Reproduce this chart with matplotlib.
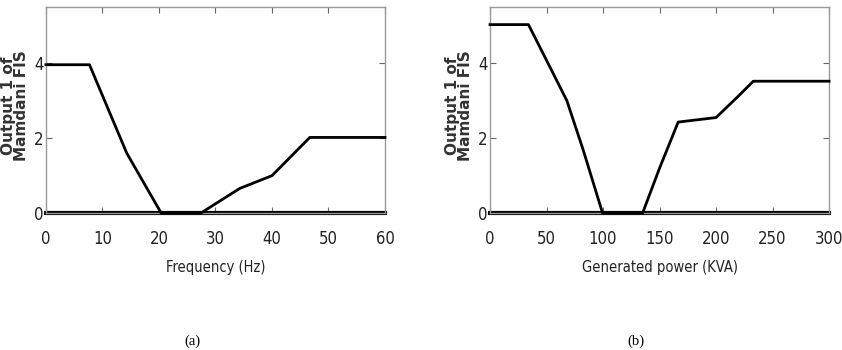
import matplotlib
matplotlib.use("Agg")
import matplotlib.pyplot as plt

# (a) output vs frequency
freq = [0, 7.7, 14.3, 20.4, 27.4, 30, 34.3, 40, 46.7, 60]
out_a = [3.96, 3.96, 1.6, 0, 0, 0.25, 0.66, 1.0, 2.02, 2.02]

# (b) output vs generated power
power = [0, 34, 57.5, 68, 82.5, 99.6, 135, 150, 166.5, 200, 219, 233, 300]
out_b = [5.03, 5.03, 3.63, 3.0, 1.68, 0, 0, 1.2, 2.43, 2.55, 3.1, 3.52, 3.52]

fig = plt.figure(figsize=(8.42, 3.5), dpi=100)
ax1 = fig.add_axes([0.0546, 0.391, 0.4026, 0.589])
ax2 = fig.add_axes([0.582, 0.391, 0.4026, 0.589])

panels = [
    (ax1, freq, out_a, [0, 60], range(0, 61, 10), "Frequency (Hz)", "(a)", 192, 15),
    (ax2, power, out_b, [0, 300], range(0, 301, 50), "Generated power (KVA)", "(b)", 636, 459),
]

for ax, x, y, xl, xt, xlab, cap, capx, ylx in panels:
    ax.plot(x, y, color="black", lw=2, clip_on=False, zorder=3)
    ax.axhline(0, color="black", lw=3, zorder=2, clip_on=False)
    ax.set_xlim(xl)
    ax.set_ylim(0, 5.5)
    ax.set_xticks(list(xt))
    ax.set_yticks([0, 2, 4])
    ax.tick_params(direction="in", top=True, right=True, length=4,
                   width=0.8, color="#666666", labelsize=12)
    ax.tick_params(axis="x", pad=12)
    ax.tick_params(axis="y", pad=2)
    for lab in ax.get_xticklabels() + ax.get_yticklabels():
        lab.set_fontstretch("condensed")
        lab.set_color("#222222")
    for s in ax.spines.values():
        s.set_color("#999999")
        s.set_linewidth(1)
    ax.set_xlabel(xlab, fontsize=10.5, fontstretch="condensed", labelpad=9,
                  color="#222222")
    # y label placed in figure pixels to match the reference
    fig.text(ylx / 842, 1 - 106 / 350, "Output 1 of\nMamdani FIS", rotation=90,
             fontsize=11, fontweight="bold", linespacing=0.9, color="#333333",
             ha="center", va="center")
    fig.text(capx / 842, 1 - 341 / 350, cap,
             family="Liberation Serif", fontsize=10.5, ha="center", va="center")

fig.savefig("out.png", dpi=100)
